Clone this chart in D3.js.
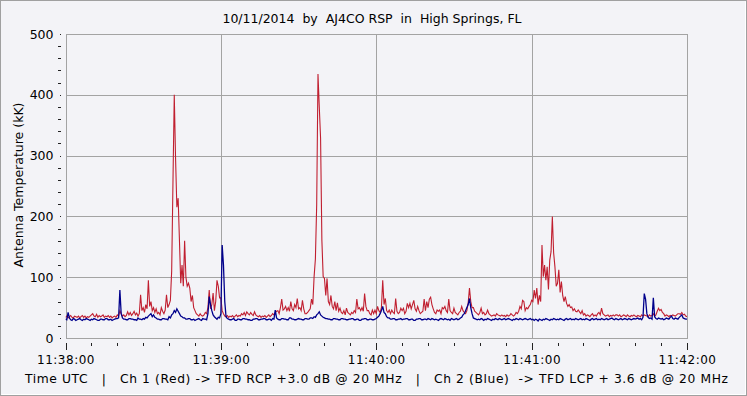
<!DOCTYPE html>
<html><head><meta charset="utf-8">
<script src="https://cdn.jsdelivr.net/npm/d3@7"></script>
<style>
html,body{margin:0;padding:0;background:#f3f3f7;}
svg{display:block;}
text{font-family:"DejaVu Sans",Verdana,sans-serif;fill:#000;}
</style></head><body>
<svg id="c" width="747" height="396"></svg>
<script>
// ---- data: samples every 0.5 s after 11:38:00 (index 0..480) ----
const title = "10/11/2014  by  AJ4CO RSP  in  High Springs, FL";
const yTitle = "Antenna Temperature (kK)";
const footer = "Time UTC   |   Ch 1 (Red) -> TFD RCP +3.0 dB @ 20 MHz   |   Ch 2 (Blue)  -> TFD LCP + 3.6 dB @ 20 MHz";
const sampleSeconds = 0.5;
const xTickValues = [0, 60, 120, 180, 240];          // seconds
const xTickLabels = ["11:38:00", "11:39:00", "11:40:00", "11:41:00", "11:42:00"];
const yTickValues = [0, 100, 200, 300, 400, 500];
const yTickLabels = ["0", "100", "200", "300", "400", "500"];

const red = [
 34,36,33,35,37,34,33,36,35,34,36,33,35,37,34,36,33,35,34,36,
 38,40,36,35,39,34,37,35,36,38,34,36,35,37,34,36,33,35,36,34,
 38,36,45,40,36,38,35,37,43,38,42,37,40,44,38,41,36,40,71,45,
 50,42,55,48,95,52,60,45,50,42,48,40,42,38,50,44,40,46,71,50,
 55,62,110,257,400,296,215,230,161,90,120,85,160,100,85,90,82,60,70,50,
 45,40,38,36,40,37,36,38,42,40,50,79,48,55,74,45,60,95,85,66,
 66,45,40,36,35,37,34,36,35,37,34,36,38,35,37,36,40,38,42,37,
 43,40,38,42,39,37,43,38,36,35,37,34,36,35,37,34,36,38,35,37,
 40,38,42,44,45,40,50,64,46,48,52,45,50,44,60,48,45,55,50,65,
 48,50,45,62,48,40,40,42,45,48,64,55,101,130,219,434,380,329,161,101,
 98,70,98,60,55,70,52,48,60,45,58,44,49,42,40,45,38,49,42,40,
 38,42,40,45,42,64,48,50,45,50,44,73,52,45,45,40,38,46,40,46,
 40,52,45,42,50,95,55,65,45,42,46,40,46,42,40,65,44,40,42,49,
 45,49,40,44,57,50,57,48,55,62,48,44,52,45,40,42,44,64,45,60,
 50,64,67,55,48,42,40,46,44,46,40,50,48,52,45,42,64,45,42,40,
 49,42,40,38,42,44,52,45,42,40,45,58,82,60,50,50,44,42,40,38,
 42,49,40,42,38,40,46,40,38,36,37,38,36,40,38,37,36,38,36,37,
 35,38,36,37,40,38,36,38,42,40,44,52,48,62,60,45,50,48,52,55,
 62,60,79,65,82,55,70,60,153,101,120,95,117,80,128,142,200,140,117,85,
 90,112,75,93,70,60,68,57,52,55,50,51,45,48,44,43,46,43,40,45,
 38,40,36,38,37,35,38,40,36,38,36,40,42,38,49,40,38,36,37,38,
 35,37,36,38,36,38,38,36,38,35,36,38,37,35,38,36,35,37,36,38,
 36,35,37,36,35,38,36,38,37,36,35,38,36,37,40,36,38,44,49,45,
 47,42,40,36,38,37,35,37,36,38,37,36,38,40,40,39,42,38,39,36,
 35
];
const blue = [
 31,30,42,33,30,29,32,31,29,30,31,32,30,29,31,30,32,31,30,29,
 31,30,32,31,30,29,29,31,31,30,30,32,32,30,30,31,29,30,31,32,
 32,33,79,40,33,31,31,30,30,32,32,31,31,30,30,29,33,31,31,30,
 32,31,34,33,36,38,40,35,38,34,33,31,31,30,30,32,32,31,31,30,
 35,33,38,40,45,42,48,44,40,36,35,33,33,31,31,32,32,30,30,31,
 29,30,31,32,30,29,32,31,31,30,40,68,55,45,38,35,33,31,34,33,
 40,153,120,60,35,32,31,30,30,31,32,29,29,31,31,30,30,32,32,31,
 31,30,30,29,29,31,31,32,32,30,30,31,31,32,32,30,30,31,31,29,
 32,31,46,33,31,30,30,32,32,31,31,30,30,33,33,31,31,30,30,31,
 32,31,31,30,30,32,32,31,31,33,33,32,35,34,38,40,43,38,36,34,
 33,32,32,31,31,30,30,32,32,31,31,30,30,32,32,31,31,30,30,31,
 31,32,32,30,30,31,31,29,29,31,31,32,32,30,30,31,31,30,30,31,
 32,34,36,40,45,52,42,40,35,33,33,31,31,32,32,30,30,31,31,32,
 30,31,31,32,32,30,30,31,31,29,29,31,31,32,32,30,30,31,31,30,
 32,31,30,32,31,30,31,30,29,31,32,31,30,32,31,30,31,29,32,31,
 30,31,32,30,31,33,34,38,40,45,50,55,65,50,40,33,32,31,30,31,
 30,32,31,29,31,30,32,31,30,29,31,30,32,31,30,32,31,30,31,32,
 30,31,32,31,30,29,31,30,32,31,30,32,31,30,31,32,31,30,31,32,
 30,31,29,31,30,28,31,30,29,31,30,32,31,30,29,31,30,32,31,30,
 31,30,32,31,30,29,31,32,30,31,32,30,31,30,32,31,30,31,32,30,
 31,30,32,31,30,29,31,32,30,31,32,30,31,30,32,31,30,31,32,30,
 31,32,33,31,30,32,31,30,31,32,30,31,32,31,30,32,31,30,31,32,
 31,32,33,31,32,30,34,73,64,40,34,32,33,31,66,35,32,31,33,32,
 31,32,30,31,33,32,31,34,36,32,31,33,32,31,34,36,38,33,32,31,
 31
];

// ---- layout ----
const W = 747, H = 396;
const L = 65.5, R = 687, T = 34, B = 338;
const svg = d3.select("#c");

svg.append("rect").attr("x",0.5).attr("y",0.5).attr("width",W-1).attr("height",H-1)
  .attr("fill","#f3f3f7").attr("stroke","#a0a0a0");
svg.append("path").attr("d",`M1.5,${H-1.5}H${W-1.5}V1.5`).attr("fill","none").attr("stroke","#ffffff");

const x = d3.scaleLinear().domain([0,240]).range([L,R]);
const y = d3.scaleLinear().domain([0,500]).range([B,T]);

// grid
const grid = svg.append("g").attr("stroke","#a3a3a3").attr("stroke-width",1).attr("shape-rendering","crispEdges");
grid.selectAll(".h").data(yTickValues.filter(v=>v>0&&v<500)).join("line")
  .attr("x1",L).attr("x2",R).attr("y1",d=>Math.round(y(d))+0.5).attr("y2",d=>Math.round(y(d))+0.5);
grid.selectAll(".v").data(xTickValues.filter(v=>v>0&&v<240)).join("line")
  .attr("y1",T).attr("y2",B).attr("x1",d=>Math.round(x(d))+0.5).attr("x2",d=>Math.round(x(d))+0.5);
svg.append("rect").attr("x",Math.round(L)+0.5).attr("y",T+0.5).attr("width",Math.round(R)-Math.round(L)).attr("height",B-T)
  .attr("fill","none").attr("stroke","#a3a3a3").attr("shape-rendering","crispEdges");

// clip
svg.append("clipPath").attr("id","clip").append("rect").attr("x",L).attr("y",T).attr("width",R-L).attr("height",B-T);

const line = d3.line().x((d,i)=>x(i*sampleSeconds)).y(d=>y(d));
const plot = svg.append("g").attr("clip-path","url(#clip)");
plot.append("path").datum(red).attr("d",line).attr("fill","none").attr("stroke","#c01f30").attr("stroke-width",1.1);
plot.append("path").datum(blue).attr("d",line).attr("fill","none").attr("stroke","#00008c").attr("stroke-width",1.3);

// x axes
const minorX = d3.range(10,240,10).filter(v=>v%60!==0);
const gxMinor = svg.append("g").attr("transform",`translate(0,${B+5})`)
  .call(d3.axisBottom(x).tickValues(minorX).tickSize(3).tickFormat(""));
const gxMajor = svg.append("g").attr("transform",`translate(0,${B+5})`)
  .call(d3.axisBottom(x).tickValues(xTickValues).tickSize(7).tickPadding(8)
        .tickFormat((d,i)=>xTickLabels[i]));
[gxMinor,gxMajor].forEach(g=>{g.select(".domain").remove();
  g.selectAll(".tick line").attr("stroke","#222").attr("shape-rendering","crispEdges");});
gxMajor.selectAll(".tick text").attr("font-family","DejaVu Sans, Verdana, sans-serif")
  .attr("font-size",12).attr("letter-spacing","0.5px").attr("fill","#000").attr("y",12).attr("dy","0.71em");

// y axes
const minorY = d3.range(20,500,20).filter(v=>v%100!==0);
const gyMinor = svg.append("g").attr("transform",`translate(${L-5},0)`)
  .call(d3.axisLeft(y).tickValues(minorY).tickSize(3).tickFormat(""));
const gyMajor = svg.append("g").attr("transform",`translate(${L-5},0)`)
  .call(d3.axisLeft(y).tickValues(yTickValues).tickSize(1).tickPadding(6)
        .tickFormat((d,i)=>yTickLabels[i]));
[gyMinor,gyMajor].forEach(g=>{g.select(".domain").remove();
  g.selectAll(".tick line").attr("stroke","#222").attr("shape-rendering","crispEdges");});
gyMajor.selectAll(".tick text").attr("font-family","DejaVu Sans, Verdana, sans-serif")
  .attr("font-size",12.5).attr("fill","#000");

// titles
svg.append("text").attr("x",372).attr("y",23).attr("text-anchor","middle")
  .attr("font-family","Liberation Sans, Arial, sans-serif").attr("font-size",12.5)
  .style("white-space","pre").text(title);
svg.append("text").attr("transform","translate(23,185) rotate(-90)").attr("text-anchor","middle")
  .attr("font-family","Liberation Sans, Arial, sans-serif").attr("font-size",12.5).text(yTitle);
svg.append("text").attr("x",25).attr("y",383).attr("textLength",703).attr("lengthAdjust","spacing")
  .attr("font-family","DejaVu Sans, Verdana, sans-serif").attr("font-size",12.3)
  .style("white-space","pre").text(footer);
</script>
</body></html>
